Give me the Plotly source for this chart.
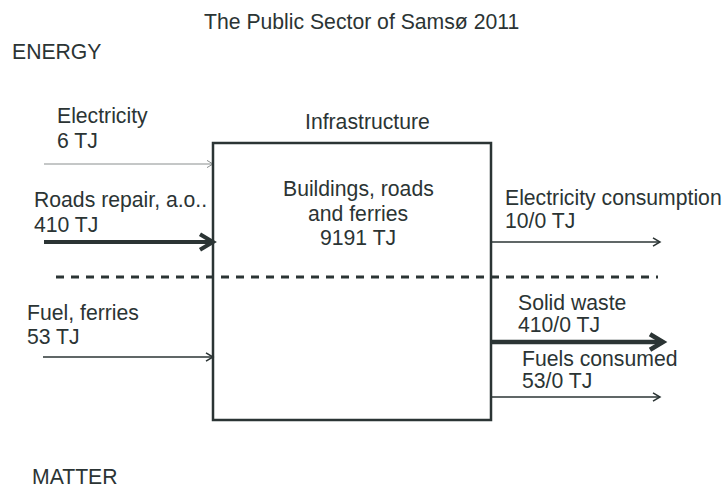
import plotly.graph_objects as go

# diagram content
title = "The Public Sector of Samsø 2011"
section_labels = ["ENERGY", "MATTER"]
box_title = "Infrastructure"
stock_lines = ["Buildings, roads", "and ferries", "9191 TJ"]

inflow_names = ["Electricity", "Roads repair, a.o..", "Fuel, ferries"]
inflow_values = ["6 TJ", "410 TJ", "53 TJ"]
outflow_names = ["Electricity consumption", "Solid waste", "Fuels consumed"]
outflow_values = ["10/0 TJ", "410/0 TJ", "53/0 TJ"]

# layout (pixel coordinates, y measured downwards)
W, H = 723, 486
box = dict(x0=213, x1=491, y0=143, y1=420)
divider_y = 277
in_y = [164, 242, 357]
in_x = [44, 44, 43]
in_label_pos = [(55, 116), (32, 200), (25, 312)]
out_y = [242, 342, 397]
out_x = [660, 663, 660]
out_label_pos = [(503, 198), (516, 302), (520, 358)]
in_style = [dict(w=1, c="#8a8f8f", head=6), dict(w=4, c="#2b3434", head=13), dict(w=1.5, c="#2b3434", head=7)]
out_style = [dict(w=1.5, c="#2b3434", head=7), dict(w=4.5, c="#2b3434", head=13), dict(w=1.5, c="#2b3434", head=7)]

INK = "#2b3434"
FONT = "Liberation Sans, Arial, sans-serif"
FS = 21.2

fig = go.Figure()


def arrow(x0, x1, y, st):
    fig.add_trace(go.Scatter(x=[x0, x1], y=[y, y], mode="lines",
                             line=dict(color=st["c"], width=st["w"]), hoverinfo="skip"))
    h = st["head"]
    fig.add_trace(go.Scatter(x=[x1 - h, x1, x1 - h], y=[y - h * 0.6, y, y + h * 0.6], mode="lines",
                             line=dict(color=st["c"], width=st["w"]), hoverinfo="skip"))


for i in range(3):
    arrow(in_x[i], box["x0"], in_y[i], in_style[i])
    arrow(box["x1"], out_x[i], out_y[i], out_style[i])

# divider between energy and matter
fig.add_trace(go.Scatter(x=[56, 658], y=[divider_y, divider_y], mode="lines",
                         line=dict(color=INK, width=3, dash="8px,7px"), hoverinfo="skip"))

fig.add_shape(type="rect", x0=box["x0"], x1=box["x1"], y0=box["y0"], y1=box["y1"],
              line=dict(color=INK, width=2.5), layer="above")

annotations = []


def label(x, y, text, anchor="left", size=FS):
    annotations.append(dict(x=x, y=y, text=text, showarrow=False, xanchor=anchor, yanchor="middle",
                            font=dict(family=FONT, size=size, color=INK)))


label(361, 21, title, "center")
label(10, 51, section_labels[0])
label(30, 476, section_labels[1])
label(367, 121, box_title, "center")
for k, line in enumerate(stock_lines):
    label(358, 189 + 24 * k, line, "center")
for i in range(3):
    lx, ly = in_label_pos[i]
    label(lx, ly, inflow_names[i])
    label(lx, ly + 24, inflow_values[i])
    ox, oy = out_label_pos[i]
    label(ox, oy, outflow_names[i])
    label(ox, oy + 22, outflow_values[i])

fig.update_layout(
    width=W, height=H,
    margin=dict(l=0, r=0, t=0, b=0),
    paper_bgcolor="white", plot_bgcolor="white",
    showlegend=False,
    annotations=annotations,
    xaxis=dict(range=[0, W], visible=False, fixedrange=True),
    yaxis=dict(range=[H, 0], visible=False, fixedrange=True),
)

fig.write_html("out.html", config={"displayModeBar": False},
               post_script="document.body.style.margin='0';document.body.style.overflow='hidden';")
